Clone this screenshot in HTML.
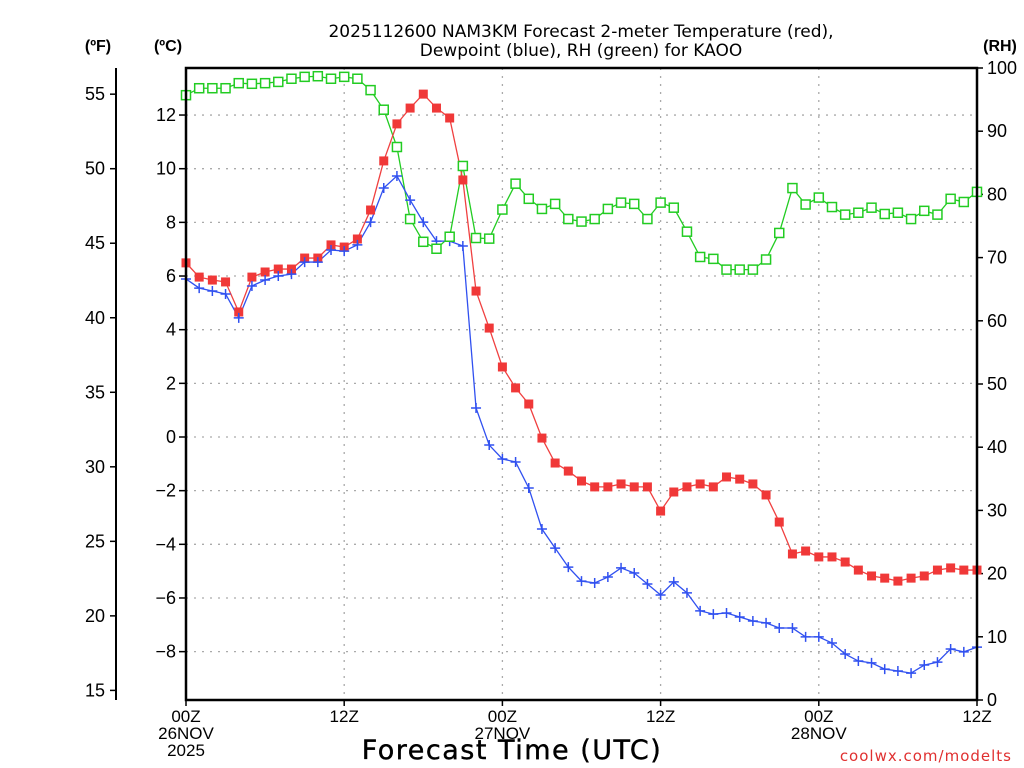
<!DOCTYPE html>
<html><head><meta charset="utf-8"><style>
body{margin:0;background:#fff;}
svg{display:block;font-family:"DejaVu Sans","Liberation Sans",sans-serif;}
.tk{font-family:"Liberation Sans",sans-serif;}
</style></head><body>
<svg id="chart" width="1024" height="768" viewBox="0 0 1024 768" xmlns="http://www.w3.org/2000/svg">
<rect width="1024" height="768" fill="#fff"/>
<text x="581" y="37" font-size="17" text-anchor="middle" fill="#000">2025112600 NAM3KM Forecast 2-meter Temperature (red),</text>
<text x="581" y="56" font-size="17" text-anchor="middle" fill="#000">Dewpoint (blue), RH (green) for KAOO</text>
<text class="tk" x="98" y="51" font-size="16" font-weight="bold" text-anchor="middle">(ºF)</text>
<text class="tk" x="168" y="51" font-size="16" font-weight="bold" text-anchor="middle">(ºC)</text>
<text class="tk" x="1000" y="51" font-size="16" font-weight="bold" text-anchor="middle">(RH)</text>
<g id="grid"></g>
<g id="axes"></g>
<g id="series"></g>
<rect x="186" y="68" width="791" height="632" fill="none" stroke="#000" stroke-width="2.5"/>
<line x1="116" y1="68" x2="116" y2="700" stroke="#000" stroke-width="2"/>
<text x="512" y="759" font-size="27" text-anchor="middle" letter-spacing="1.5" stroke="#000" stroke-width="0.4">Forecast Time (UTC)</text>
<text x="1012" y="761" font-size="15" text-anchor="end" fill="#e03030" letter-spacing="1">coolwx.com/modelts</text>
</svg>
<script>
const tempC=[6.49,5.96,5.85,5.78,4.66,5.96,6.15,6.26,6.26,6.67,6.67,7.16,7.08,7.38,8.46,10.29,11.67,12.26,12.78,12.26,11.89,9.58,5.44,4.06,2.61,1.83,1.23,-0.04,-0.97,-1.27,-1.64,-1.86,-1.86,-1.75,-1.86,-1.86,-2.76,-2.05,-1.86,-1.75,-1.86,-1.49,-1.57,-1.75,-2.16,-3.17,-4.36,-4.25,-4.47,-4.47,-4.66,-4.96,-5.18,-5.26,-5.37,-5.26,-5.18,-4.96,-4.88,-4.96,-4.96];
const dewC=[5.89,5.55,5.44,5.33,4.44,5.63,5.85,6.0,6.07,6.52,6.52,6.97,6.93,7.16,8.01,9.28,9.73,8.83,8.01,7.3,7.3,7.12,1.08,-0.3,-0.82,-0.93,-1.9,-3.43,-4.14,-4.85,-5.37,-5.44,-5.22,-4.88,-5.07,-5.48,-5.89,-5.4,-5.81,-6.48,-6.6,-6.56,-6.71,-6.86,-6.93,-7.12,-7.12,-7.45,-7.45,-7.68,-8.09,-8.35,-8.42,-8.65,-8.72,-8.8,-8.5,-8.39,-7.9,-8.01,-7.83];
const rh=[95.7,96.8,96.8,96.8,97.6,97.5,97.6,97.8,98.3,98.6,98.7,98.3,98.6,98.3,96.5,93.4,87.5,76.1,72.5,71.4,73.3,84.5,73.1,73.0,77.6,81.7,79.3,77.7,78.5,76.1,75.7,76.1,77.7,78.7,78.5,76.1,78.7,77.9,74.1,70.1,69.8,68.1,68.1,68.1,69.7,73.9,81.0,78.4,79.5,78.0,76.8,77.1,77.9,76.9,77.1,76.1,77.4,76.8,79.3,78.8,80.4];
const cTicks=[-8,-6,-4,-2,0,2,4,6,8,10,12];
const fTicks=[15,20,25,30,35,40,45,50,55];
const rhTicks=[0,10,20,30,40,50,60,70,80,90,100];
const xTickHours=[0,12,24,36,48,60];
const xTickLabels=[["00Z","26NOV","2025"],["12Z"],["00Z","27NOV"],["12Z"],["00Z","28NOV"],["12Z"]];

const NS="http://www.w3.org/2000/svg";
const X0=186,X1=977,HMAX=60;
const xs=h=>X0+h*(X1-X0)/HMAX;
const yC=c=>437-c*26.83;
const yF=f=>yC((f-32)*5/9);
const yRH=r=>700-r*6.32;
function mk(tag,attrs,parent,txt){const e=document.createElementNS(NS,tag);for(const k in attrs)e.setAttribute(k,attrs[k]);if(txt!==undefined)e.textContent=txt;parent.appendChild(e);return e;}
const grid=document.getElementById('grid'),axes=document.getElementById('axes'),ser=document.getElementById('series');

cTicks.forEach(c=>{const y=yC(c);
 const g=mk('line',{x1:X0,x2:X1,y1:y,y2:y,stroke:'#aaa','stroke-width':1.3,'stroke-dasharray':'2,6'},grid);
 
 
 const t=mk('line',{x1:X0-7,x2:X0,y1:y,y2:y,stroke:'#000','stroke-width':1.5},axes);
 
 
 const l=mk('text',{class:'tk',x:X0-10,y:y+6,'font-size':18,'text-anchor':'end'},axes,(c<0?'\u2212':'')+Math.abs(c));
 
 
});
fTicks.forEach(f=>{const y=yF(f);
 const t=mk('line',{x1:110,x2:116,y1:y,y2:y,stroke:'#000','stroke-width':1.5},axes);
 
 
 const l=mk('text',{class:'tk',x:105,y:y+6,'font-size':18,'text-anchor':'end'},axes,String(f));
 
 
});
rhTicks.forEach(r=>{const y=yRH(r);
 const t=mk('line',{x1:X1,x2:X1+6,y1:y,y2:y,stroke:'#000','stroke-width':1.5},axes);
 
 
 const l=mk('text',{class:'tk',x:X1+10,y:y+6,'font-size':18,'text-anchor':'start'},axes,String(r));
 
 
});
xTickHours.forEach((h,i)=>{const x=xs(h);
 if(i>0&&i<xTickHours.length-1){const g=mk('line',{x1:x,x2:x,y1:68,y2:700,stroke:'#aaa','stroke-width':1.3,'stroke-dasharray':'2,6'},grid);
 
 }
 const t=mk('line',{x1:x,x2:x,y1:700,y2:706,stroke:'#000','stroke-width':1.5},axes);
 
 
 xTickLabels[i].forEach((s,j)=>{const l=mk('text',{class:'tk',x:x,y:722+j*17,'font-size':17,'text-anchor':'middle'},axes,s);
 
 });
});

function line(arr,fy,color,name){
 const p=mk('polyline',{points:arr.map((v,i)=>xs(i)+','+fy(v)).join(' '),fill:'none',stroke:color,'stroke-width':1.3},ser);
 
 
}
line(rh,yRH,'#22cc22','rh');
line(tempC,yC,'#f04040','temperature');
line(dewC,yC,'#3050f0','dewpoint');
tempC.forEach((v,i)=>{const m=mk('rect',{x:xs(i)-4.5,y:yC(v)-4.5,width:9,height:9,fill:'#f03838'},ser);
 
 });
dewC.forEach((v,i)=>{const x=xs(i),y=yC(v);
 const m=mk('path',{d:`M${x-5},${y}H${x+5}M${x},${y-5}V${y+5}`,stroke:'#3050f0','stroke-width':1.5},ser);
 
 });
rh.forEach((v,i)=>{const m=mk('rect',{x:xs(i)-4.5,y:yRH(v)-4.5,width:9,height:9,fill:'#fff',stroke:'#22cc22','stroke-width':1.5},ser);
 
 });
</script>
</body></html>
